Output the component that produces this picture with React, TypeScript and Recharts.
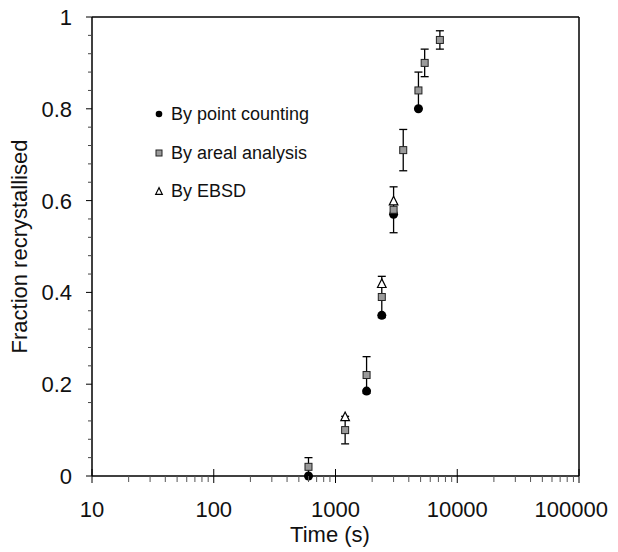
import React from 'react';
import { ScatterChart, Scatter, XAxis, YAxis, ErrorBar, Legend, ReferenceLine, Label } from 'recharts';

// time (s) vs fraction recrystallised
const pointTimes = [600, 1800, 2400, 3000, 4800];
const pointFractions = [0, 0.185, 0.35, 0.57, 0.8];

const arealTimes = [600, 1200, 1800, 2400, 3000, 3600, 4800, 5400, 7200];
const arealFractions = [0.02, 0.1, 0.22, 0.39, 0.58, 0.71, 0.84, 0.9, 0.95];
const arealErrors = [0.02, 0.03, 0.04, 0.045, 0.05, 0.045, 0.04, 0.03, 0.02];

const ebsdTimes = [1200, 2400, 3000];
const ebsdFractions = [0.13, 0.42, 0.6];

const seriesNames = ['By point counting', 'By areal analysis', 'By EBSD'];

const xMajorTicks = [10, 100, 1000, 10000, 100000];
const xMinorTicks = [20, 30, 40, 50, 60, 70, 80, 90, 200, 300, 400, 500, 600, 700, 800, 900,
    2000, 3000, 4000, 5000, 6000, 7000, 8000, 9000, 20000, 30000, 40000, 50000, 60000, 70000, 80000, 90000];
const yMajorTicks = [0, 0.2, 0.4, 0.6, 0.8, 1];
const yMinorTicks = [0.04, 0.08, 0.12, 0.16, 0.24, 0.28, 0.32, 0.36, 0.44, 0.48, 0.52, 0.56,
    0.64, 0.68, 0.72, 0.76, 0.84, 0.88, 0.92, 0.96];

const FONT = '"Liberation Sans", Arial, sans-serif';
const INK = '#111';

const pointData = pointTimes.map((t, i) => ({ x: t, y: pointFractions[i] }));
const arealData = arealTimes.map((t, i) => ({ x: t, y: arealFractions[i], err: arealErrors[i] }));
const ebsdData = ebsdTimes.map((t, i) => ({ x: t, y: ebsdFractions[i] }));

function Dot(props: any) {
    const r = props.r || 4.5;
    return <circle cx={props.cx} cy={props.cy} r={r} fill="#000" />;
}

function Square(props: any) {
    const s = props.s || 7;
    return <rect x={props.cx - s / 2} y={props.cy - s / 2} width={s} height={s}
        fill="#9a9a9a" stroke="#222" strokeWidth={1} />;
}

function Triangle(props: any) {
    const h = props.h || 4.3;
    const { cx, cy } = props;
    return <polygon points={`${cx},${cy - h} ${cx - h},${cy + h} ${cx + h},${cy + h}`}
        fill="#fff" stroke="#000" strokeWidth={1.2} />;
}

function XTick(props: any) {
    const { x, y, payload } = props;
    const major = xMajorTicks.includes(payload.value);
    if (!major) {
        return <line x1={x} y1={y} x2={x} y2={y + 6} stroke="#555" strokeWidth={1} />;
    }
    // last label is pulled in so it stays on the page
    const last = payload.value === xMajorTicks[xMajorTicks.length - 1];
    return <g>
        <line x1={x} y1={y - 7} x2={x} y2={y + 7} stroke="#000" strokeWidth={1} />
        <text x={last ? x + 29 : x} y={y + 41} textAnchor={last ? 'end' : 'middle'} fontFamily={FONT}
            fontSize={22} fill={INK}>{payload.value}</text>
    </g>;
}

function YTick(props: any) {
    const { x, y, payload } = props;
    const major = yMajorTicks.includes(payload.value);
    if (!major) {
        return <line x1={x - 4} y1={y} x2={x} y2={y} stroke="#444" strokeWidth={1} />;
    }
    return <g>
        <line x1={x - 6} y1={y} x2={x} y2={y} stroke="#000" strokeWidth={1} />
        <text x={x - 20} y={y + 8} textAnchor="end" fontFamily={FONT} fontSize={22} fill={INK}>{payload.value}</text>
    </g>;
}

function LegendBox() {
    const rows = [16, 55, 93];
    return <svg width={200} height={110} style={{ display: 'block' }}>
        <Dot cx={11} cy={rows[0]} r={3.3} />
        <Square cx={11} cy={rows[1]} s={6} />
        <Triangle cx={11} cy={rows[2]} h={3.3} />
        {seriesNames.map((name, i) =>
            <text key={name} x={23} y={rows[i] + 6} fontFamily={FONT} fontSize={18} fill={INK}>{name}</text>)}
    </svg>;
}

export default function App() {
    return <div style={{ width: 610, height: 544 }}>
        <style>{'.recharts-surface { overflow: visible; }'}</style>
        <ScatterChart width={610} height={544} margin={{ top: 9, right: 39, bottom: 0, left: 0 }}>
            <XAxis type="number" dataKey="x" scale="log" domain={[10, 100000]} allowDataOverflow
                ticks={[...xMajorTicks, ...xMinorTicks]} interval={0} tickSize={0} tickMargin={0}
                tickLine={false} tick={<XTick />} height={76}
                axisLine={{ stroke: '#000', strokeWidth: 1.5 }}>
                <Label content={() => <text x={322} y={534} textAnchor="middle" fontFamily={FONT}
                    fontSize={22} fill={INK}>Time (s)</text>} />
            </XAxis>
            <YAxis type="number" dataKey="y" domain={[0, 1]} ticks={[...yMajorTicks, ...yMinorTicks]}
                interval={0} tickSize={0} tickMargin={0} tickLine={false} tick={<YTick />} width={84}
                axisLine={{ stroke: '#000', strokeWidth: 1.5 }}>
                <Label content={(p: any) => {
                    const vb = p.viewBox;
                    const cy = vb.y + vb.height / 2;
                    return <text x={19} y={cy} transform={`rotate(-90, 19, ${cy})`} textAnchor="middle"
                        fontFamily={FONT} fontSize={22} fill={INK}>Fraction recrystallised</text>;
                }} />
            </YAxis>
            <ReferenceLine y={1} stroke="#000" strokeWidth={1.5} />
            <ReferenceLine x={100000} stroke="#000" strokeWidth={1.5} />
            <Legend layout="horizontal" verticalAlign="middle" align="center"
                wrapperStyle={{ top: 90, left: 140, width: 200 }} content={() => <LegendBox />} />
            <Scatter name={seriesNames[0]} data={pointData} shape={<Dot />} isAnimationActive={false} />
            <Scatter name={seriesNames[1]} data={arealData} shape={<Square />} isAnimationActive={false}>
                <ErrorBar dataKey="err" direction="y" width={4} stroke="#000" strokeWidth={1.3} isAnimationActive={false} />
            </Scatter>
            <Scatter name={seriesNames[2]} data={ebsdData} shape={<Triangle />} isAnimationActive={false} />
        </ScatterChart>
    </div>;
}
